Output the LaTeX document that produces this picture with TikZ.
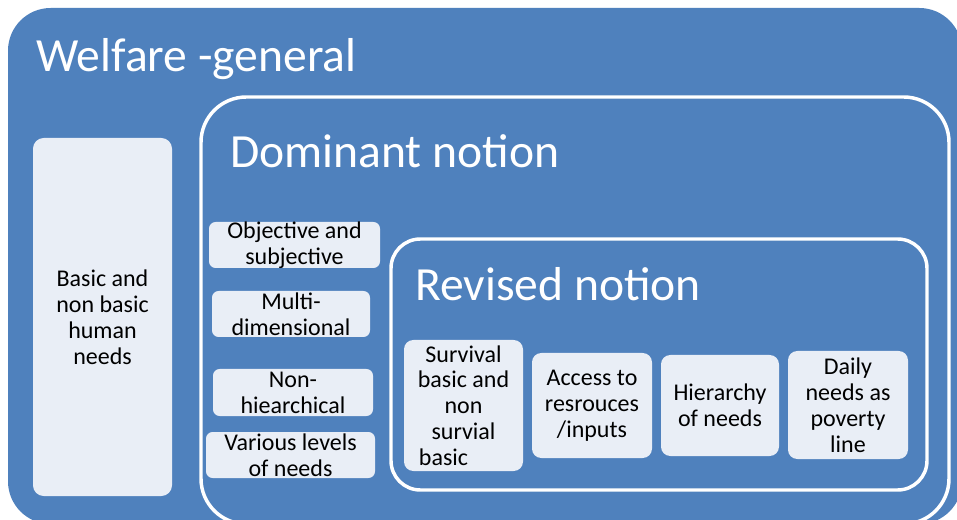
\documentclass[tikz,border=0pt]{standalone}
\usepackage{fontspec}
\setmainfont{Carlito}
\usetikzlibrary{fit}
\definecolor{accentblue}{HTML}{4F81BD}
\definecolor{boxfill}{HTML}{E9EEF6}
\begin{document}
\begin{tikzpicture}[x=0.75pt,y=-0.75pt,
  panel/.style={inner sep=0pt, outer sep=0pt, fill=accentblue},
  frame/.style={inner sep=0pt, outer sep=0pt, draw=white, line width=2.6pt},
  heading/.style={anchor=base west, inner sep=0pt, text=white,
    font=\fontsize{35.7}{40}\selectfont},
  item/.style={inner sep=0pt, outer sep=0pt, fill=boxfill, rounded corners=5pt},
  itemtext/.style={inner sep=0pt, align=center, text=black,
    font=\fontsize{18}{19.4}\selectfont}]
  \useasboundingbox (0,0) rectangle (957,520);
  \fill[white] (0,0) rectangle (957,520);
  \clip (0,0) rectangle (957,520);

  % nested containers
  \node[panel, rounded corners=32pt, fit={(8,8) (962,524)}] (welfare) {};
  \node[frame, rounded corners=34pt, fit={(201,97) (949,524)}] (dominant) {};
  \node[frame, rounded corners=22pt, fit={(391,239) (927,490)}] (revised) {};

  % headings
  \node[heading] (welfaretitle) at (36,72) {Welfare -general};
  \node[heading] (dominanttitle) at (230,168) {Dominant notion};
  \node[heading] (revisedtitle) at (415,301) {Revised notion};

  % general welfare
  \node[item, rounded corners=8pt, fit={(33,138) (172,496)}] (basic) {};
  \node[itemtext] (basictext) at (basic) {Basic and\\non basic\\human\\needs};

  % dominant notion
  \node[item, fit={(209,222) (380,268)}] (objective) {};
  \node[itemtext] (objectivetext) at (objective) {Objective and\\subjective};
  \node[item, fit={(212,291) (370,337)}] (multi) {};
  \node[itemtext] (multitext) at (multi) {Multi-\\dimensional};
  \node[item, fit={(213,369) (373,416)}] (nonhier) {};
  \node[itemtext] (nonhiertext) at (nonhier) {Non-\\hiearchical};
  \node[item, fit={(206,432) (375,478)}] (levels) {};
  \node[itemtext] (levelstext) at (levels) {Various levels\\of needs};

  % revised notion
  \node[item, rounded corners=7pt, fit={(404,340) (523,471)}] (survival) {};
  \node[itemtext] (survivaltext) at (survival)
    {Survival\\basic and\\non\\survial\\basic\hspace*{30pt}};
  \node[item, rounded corners=7pt, fit={(532,353) (652,458)}] (access) {};
  \node[itemtext] (accesstext) at (access) {Access to\\resrouces\\/inputs};
  \node[item, rounded corners=7pt, fit={(661,355) (779,456)}] (hierarchy) {};
  \node[itemtext] (hierarchytext) at (hierarchy) {Hierarchy\\of needs};
  \node[item, rounded corners=7pt, fit={(788,351) (908,459)}] (daily) {};
  \node[itemtext] (dailytext) at (daily) {Daily\\needs as\\poverty\\line};
\end{tikzpicture}
\end{document}
